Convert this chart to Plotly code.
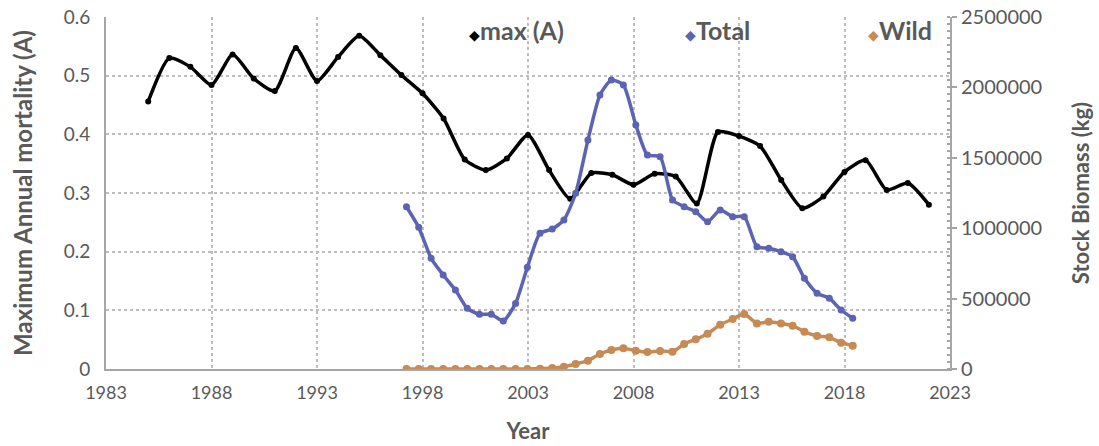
import plotly.graph_objects as go

# Maximum annual mortality (A), one value per year
mort_years = list(range(1985, 2023))
mort_max = [0.456, 0.530, 0.515, 0.484, 0.536, 0.495, 0.474, 0.547, 0.491, 0.532,
            0.568, 0.535, 0.501, 0.470, 0.427, 0.357, 0.339, 0.359, 0.399, 0.339,
            0.290, 0.334, 0.331, 0.314, 0.333, 0.328, 0.282, 0.404, 0.397, 0.380,
            0.322, 0.274, 0.294, 0.336, 0.356, 0.305, 0.317, 0.280]

# Stock biomass (kg) sampling times
stock_years = [1997.24, 1997.82, 1998.41, 1998.98, 1999.56, 2000.12, 2000.70, 2001.26,
               2001.83, 2002.41, 2002.97, 2003.57, 2004.15, 2004.70, 2005.26, 2005.84,
               2006.41, 2006.95, 2007.52, 2008.11, 2008.66, 2009.26, 2009.85, 2010.40,
               2010.95, 2011.51, 2012.11, 2012.70, 2013.25, 2013.85, 2014.41, 2014.99,
               2015.54, 2016.10, 2016.70, 2017.28, 2017.84, 2018.39]

stock_total = [1152000, 1006000, 786000, 668000, 561000, 431000, 388000, 388000,
               341000, 466000, 722000, 964000, 994000, 1058000, 1248000, 1626000,
               1946000, 2052000, 2017000, 1733000, 1520000, 1508000, 1200000, 1153000,
               1117000, 1046000, 1129000, 1082000, 1082000, 869000, 857000, 833000,
               798000, 644000, 538000, 502000, 419000, 360000]

stock_wild = [0, 0, 0, 0, 0, 0, 0, 0,
              0, 0, 0, 2300, 7000, 16600, 35500, 59000,
              106500, 135000, 147000, 130000, 121000, 128000, 123000, 177500,
              211000, 251000, 315000, 355000, 390000, 324000, 336000, 324000,
              308000, 265000, 234000, 225000, 187000, 166000]

x_ticks = [1983, 1988, 1993, 1998, 2003, 2008, 2013, 2018, 2023]

C_MAX = "#000000"
C_TOTAL = "#5c63b3"
C_WILD = "#c68a54"
C_TEXT = "#595959"
C_GRID = "#bdbdbd"
C_AXIS = "#a6a6a6"
FONT = "Lato, 'Open Sans', sans-serif"

fig = go.Figure()

fig.add_trace(go.Scatter(
    x=mort_years, y=mort_max, name="max (A)", mode="lines+markers",
    line=dict(color=C_MAX, width=3.5, shape="spline", smoothing=0.6),
    marker=dict(color=C_MAX, size=6), yaxis="y", showlegend=False))

fig.add_trace(go.Scatter(
    x=stock_years, y=stock_total, name="Total", mode="lines+markers",
    line=dict(color=C_TOTAL, width=3.5, shape="spline", smoothing=0.6),
    marker=dict(color=C_TOTAL, size=7), yaxis="y2", showlegend=False))

fig.add_trace(go.Scatter(
    x=stock_years, y=stock_wild, name="Wild", mode="lines+markers",
    line=dict(color=C_WILD, width=3.5, shape="spline", smoothing=0.6),
    marker=dict(color=C_WILD, size=8), yaxis="y2", showlegend=False))

# Legend row along the top of the plot
legend_items = [("max (A)", C_MAX, 0.428), ("Total", C_TOTAL, 0.684), ("Wild", C_WILD, 0.900)]
for label, color, xpos in legend_items:
    fig.add_annotation(
        xref="paper", yref="paper", x=xpos, y=0.962, xanchor="left", yanchor="middle",
        text=f'<span style="color:{color};font-size:14px">◆</span><b>{label}</b>',
        showarrow=False, font=dict(family=FONT, size=25, color=C_TEXT))

fig.update_layout(
    width=1099, height=446,
    margin=dict(l=106, r=149, t=17, b=77),
    paper_bgcolor="white", plot_bgcolor="white",
    font=dict(family=FONT, color=C_TEXT, size=17),
    xaxis=dict(
        range=[1983, 2023], tickvals=x_ticks, ticktext=[str(v) for v in x_ticks],
        automargin=False,
        showgrid=True, gridcolor=C_GRID, griddash="dot", gridwidth=1.5,
        showline=True, linecolor=C_AXIS, linewidth=2, zeroline=False,
        ticks="", ticklabelstandoff=6,
        tickfont=dict(size=18, color=C_TEXT),
        title=dict(text="<b>Year</b>", font=dict(size=22, color=C_TEXT), standoff=22)),
    yaxis=dict(
        range=[0, 0.6], dtick=0.1, tick0=0, automargin=False,
        showgrid=True, gridcolor=C_GRID, griddash="dot", gridwidth=1.5,
        showline=True, linecolor=C_AXIS, linewidth=2, zeroline=False,
        ticks="", ticklabelstandoff=10, tickfont=dict(size=19, color=C_TEXT),
        title=dict(text="<b>Maximum Annual mortality (A)</b>", font=dict(size=24, color=C_TEXT),
                   standoff=24)),
    yaxis2=dict(
        range=[0, 2500000], dtick=500000, tick0=0, overlaying="y", side="right",
        automargin=False,
        tickformat="d", showgrid=False, zeroline=False,
        showline=True, linecolor=C_AXIS, linewidth=2,
        ticks="outside", ticklen=5, tickcolor=C_AXIS, tickwidth=1.5,
        minor=dict(dtick=50000, ticks="inside", ticklen=3, tickcolor=C_AXIS),
        tickfont=dict(size=20, color=C_TEXT),
        title=dict(text="<b>Stock Biomass (kg)</b>", font=dict(size=22, color=C_TEXT),
                   standoff=32)),
)

fig.write_html("out.html")
